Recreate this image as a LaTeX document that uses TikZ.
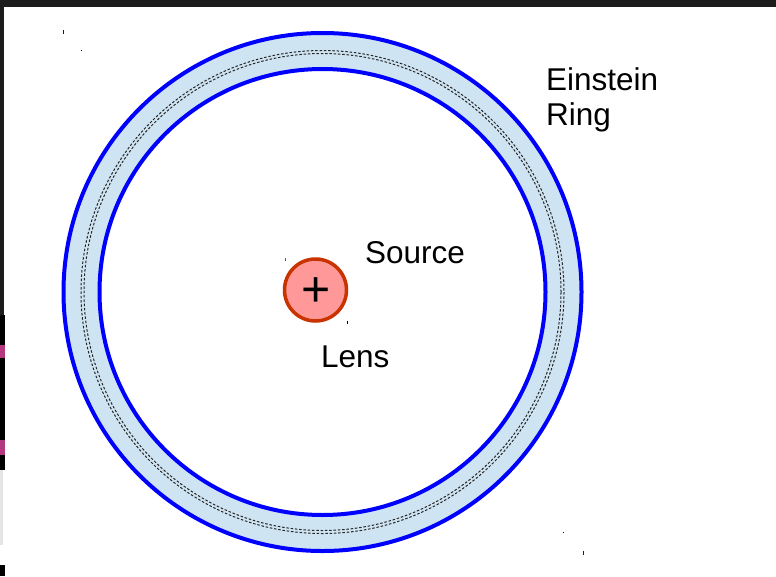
\documentclass[tikz,border=0pt]{standalone}
\usepackage{fontspec}
\setmainfont{Liberation Sans}
\definecolor{ringfill}{RGB}{207,228,242}
\definecolor{ringblue}{RGB}{0,0,255}
\definecolor{lensred}{RGB}{201,51,0}
\definecolor{lensfill}{RGB}{255,153,153}
\definecolor{frame}{RGB}{28,28,28}
\tikzset{
  ringline/.style={draw=ringblue, line width=4pt},
  dashring/.style={draw=black!85, line width=1pt, dash pattern=on 2.5pt off 1.8pt},
  lbl/.style={font=\fontsize{31.5}{35}\selectfont, anchor=base west, inner sep=0pt, text=black},
  handle/.style={inner sep=0pt, minimum width=1pt, minimum height=1pt}
}
\begin{document}
\begin{tikzpicture}[x=1pt,y=-1pt]
\useasboundingbox (0,0) rectangle (776,576);
\fill[white] (0,0) rectangle (776,576);
% frame remnants
\fill[frame] (0,0) rectangle (776,7);
\fill[frame] (0,0) rectangle (4,315);
\fill[black] (0,315) rectangle (5,470);
\fill[magenta!70!black] (0,345) rectangle (5,358);
\fill[magenta!70!black] (0,440) rectangle (5,455);
\fill[gray!20] (0,470) rectangle (3,545);
\fill[black] (0,565) rectangle (5,576);
% ring
\coordinate (c) at (322.5,292);
\fill[ringfill, even odd rule] (c) circle[radius=259] (c) circle[radius=223];
\draw[dashring] (c) circle[radius=241.5];
\draw[dashring] (c) circle[radius=238.5];
\draw[ringline] (c) circle[radius=259];
\draw[ringline] (c) circle[radius=223];
% lens
\node[circle, draw=lensred, fill=lensfill, line width=3.5pt, minimum size=62pt, inner sep=0pt] (lens) at (315.5,290) {};
\node[font=\fontsize{50}{50}\selectfont, inner sep=0pt] (plus) at (316.5,292) {+};
% labels
\node[lbl] (source) at (365,263) {Source};
\node[lbl] (lenslbl) at (321,367) {Lens};
\node[lbl] (einstein) at (546,90) {Einstein};
\node[lbl] (ring) at (546,125) {Ring};
% selection handles
\node[handle, fill=ringblue, minimum height=4pt] (h1) at (63,32) {};
\node[handle, fill=black] (h2) at (81,50) {};
\node[handle, fill=lensred, minimum height=3pt] (h3) at (285,259) {};
\node[handle, fill=black, minimum height=3pt] (h4) at (347,322) {};
\node[handle, fill=black] (h5) at (563,532) {};
\node[handle, fill=ringblue, minimum height=4pt] (h6) at (583,553) {};
\end{tikzpicture}
\end{document}
